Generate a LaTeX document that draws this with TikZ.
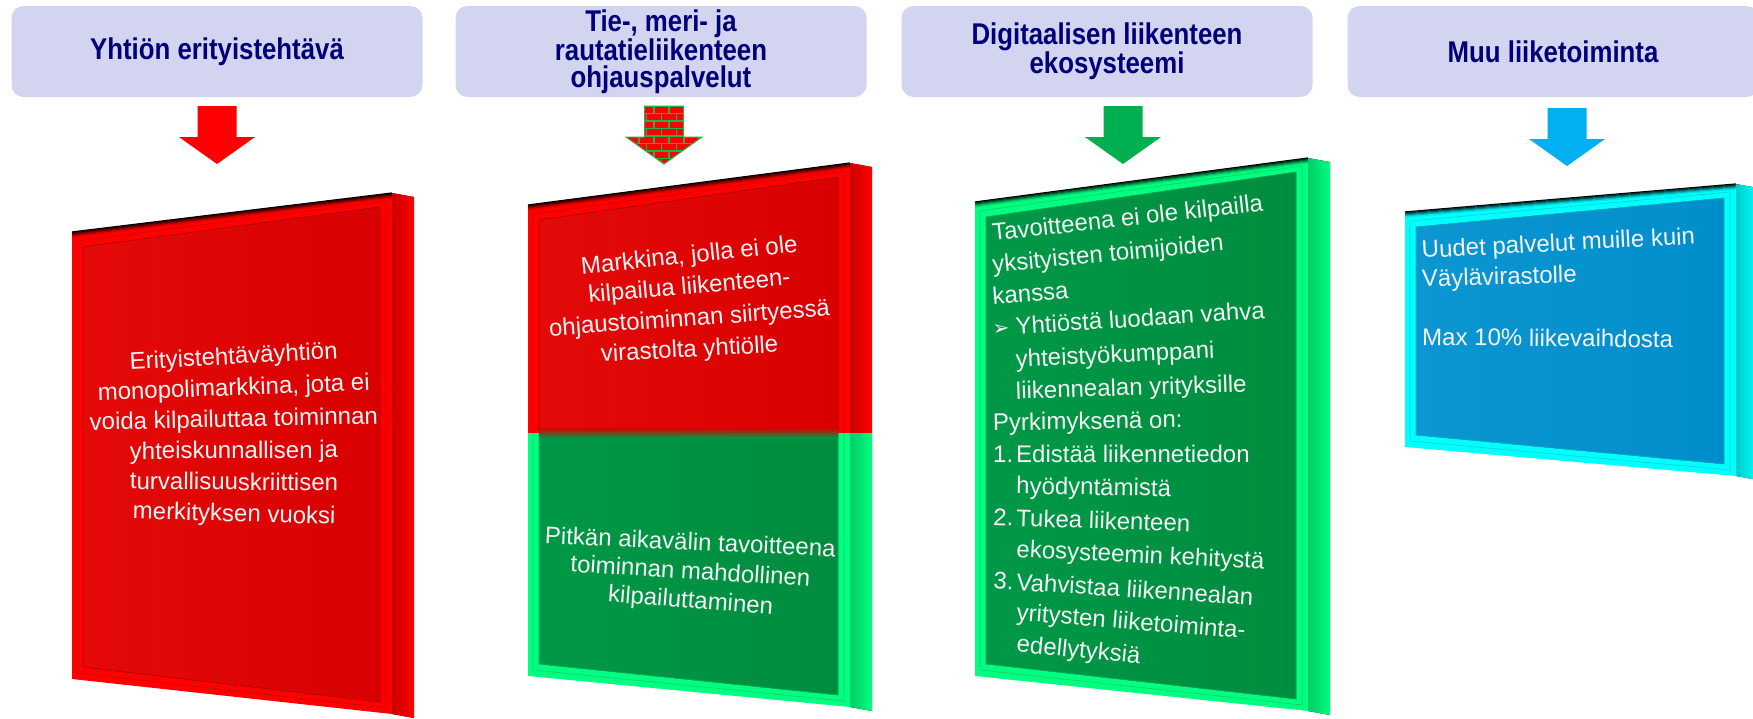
\documentclass[tikz,border=0pt]{standalone}
\usepackage{fontspec}
\setmainfont{Liberation Sans}
\newfontfamily\headfont[FakeStretch=0.86]{Liberation Sans}
\newfontfamily\symfont{DejaVu Sans}
\usetikzlibrary{calc}

\definecolor{headfill}{RGB}{211,212,240}
\definecolor{headtext}{RGB}{0,0,120}
\definecolor{framered}{RGB}{255,0,0}
\definecolor{facered}{RGB}{228,10,10}
\definecolor{facereddark}{RGB}{216,0,0}
\definecolor{framegreen}{RGB}{0,255,128}
\definecolor{facegreen}{RGB}{0,152,72}
\definecolor{facegreendark}{RGB}{0,140,62}
\definecolor{framecyan}{RGB}{0,255,255}
\definecolor{faceblue}{RGB}{12,150,210}
\definecolor{facebluedark}{RGB}{0,142,202}
\definecolor{arrowgreen}{RGB}{0,176,80}
\definecolor{arrowblue}{RGB}{0,176,240}
\definecolor{mortar}{RGB}{34,177,76}
\definecolor{boardtext}{RGB}{244,244,244}

\tikzset{
  headbox/.style={fill=headfill, rounded corners=12pt, minimum width=411pt,
    minimum height=91pt, inner sep=0pt, align=center, text=headtext,
    font=\headfont\bfseries\fontsize{30}{27}\selectfont},
  boardline/.style={text=boardtext, inner sep=0pt,
    font=\fontsize{24}{30}\selectfont},
}

% block arrow hanging below a header
\newcommand\arrowpath[1]{(#1) ++(-19.5,0) -- ++(39,0) -- ++(0,31) -- ++(18.5,0)
  -- ++(-38,27) -- ++(-38,-27) -- ++(18.5,0) -- cycle}

% 3d board: side bar, frame, bevel, face and dark top edge
\newcommand\drawboard[4]{%
  \fill[left color=#2!80!black, middle color=#2!90!white, right color=#2]
    (#1tr) -- ($(#1tr)+(22,4)$) -- ($(#1br)+(22,4)$) -- (#1br) -- cycle;
  \fill[#2] (#1tl) -- (#1tr) -- (#1br) -- (#1bl) -- cycle;
  \draw[#2!82!black, line width=0.6pt] ($(#1tl)+(5,9)$) -- ($(#1tr)+(-6,8)$)
    -- ($(#1br)+(-6,-6)$) -- ($(#1bl)+(5,-6)$) -- cycle;
  \fill[left color=#3, right color=#4, draw=#2!72!black, line width=0.6pt]
    ($(#1tl)+(11,15)$) -- ($(#1tr)+(-12,14)$) -- ($(#1br)+(-12,-12)$)
    -- ($(#1bl)+(11,-12)$) -- cycle;
  \foreach \k in {0,...,5} {
    \pgfmathtruncatemacro\shd{100-18*\k}
    \draw[black!\shd!#2, line width=1.3pt] ($(#1tl)+(0,\k)$) -- ($(#1tr)+(0,\k)$);
  }
}

\begin{document}
\begin{tikzpicture}[x=1pt, y=-1pt]
  \useasboundingbox (0,0) rectangle (1753,718);

  % headers
  \node[headbox] (head1) at (217,51.5) {Yhtiön erityistehtävä};
  \node[headbox] (head2) at (661,51.5) {Tie-, meri- ja\\rautatieliikenteen\\ohjauspalvelut};
  \node[headbox] (head3) at (1107,51.5) {Digitaalisen liikenteen\\ekosysteemi};
  \node[headbox] (head4) at (1553,51.5) {Muu liiketoiminta};

  % arrows
  \coordinate (a1) at (217,106);
  \coordinate (a2) at (664,106);
  \coordinate (a3) at (1123,106);
  \coordinate (a4) at (1567,108);
  \fill[framered] \arrowpath{a1};
  \fill[arrowgreen] \arrowpath{a3};
  \fill[arrowblue] \arrowpath{a4};
  \begin{scope}
    \clip \arrowpath{a2};
    \fill[framered] \arrowpath{a2};
    \foreach \r in {0,...,7} {
      \pgfmathsetmacro\off{mod(\r,2)*7.5}
      \draw[mortar, line width=1.5pt] ($(a2)+(-40,7.5*\r)$) -- ++(80,0);
      \foreach \k in {0,...,5}
        \draw[mortar, line width=1.5pt] ($(a2)+(-40+\off+15*\k,7.5*\r)$) -- ++(0,7.5);
    }
  \end{scope}
  \draw[mortar, line width=1pt] \arrowpath{a2};

  % boards
  \coordinate (patl) at (72,232);    \coordinate (patr) at (392,193);
  \coordinate (pabr) at (392,714);   \coordinate (pabl) at (72,679);
  \coordinate (pbtl) at (528,205);   \coordinate (pbtr) at (850,163);
  \coordinate (pbbr) at (850,707);   \coordinate (pbbl) at (528,676);
  \coordinate (pctl) at (975,202);   \coordinate (pctr) at (1308,158);
  \coordinate (pcbr) at (1308,711);  \coordinate (pcbl) at (975,676);
  \coordinate (pdtl) at (1405,212);  \coordinate (pdtr) at (1736,184);
  \coordinate (pdbr) at (1736,476);  \coordinate (pdbl) at (1405,447);

  \drawboard{pa}{framered}{facered}{facereddark}
  \begin{scope}
    \clip (0,0) rectangle (1753,433);
    \drawboard{pb}{framered}{facered}{facereddark}
  \end{scope}
  \begin{scope}
    \clip (0,433) rectangle (1753,718);
    \drawboard{pb}{framegreen}{facegreen}{facegreendark}
  \end{scope}
  \shade[top color=facereddark, bottom color=facegreen] (539,428) rectangle (838,438);
  \drawboard{pc}{framegreen}{facegreen}{facegreendark}
  \drawboard{pd}{framecyan}{faceblue}{facebluedark}

  % board texts
  \foreach \txt [count=\i] in {Erityistehtäväyhtiön, {monopolimarkkina, jota ei},
      voida kilpailuttaa toiminnan, yhteiskunnallisen ja,
      turvallisuuskriittisen, merkityksen vuoksi} {
    \pgfmathsetmacro\yy{364+31.5*(\i-1)}
    \pgfmathsetmacro\ang{7-13.1*(\yy-232)/447}
    \node[boardline, anchor=base, rotate=\ang] (pa\i) at (234,\yy) {\txt};
  }
  \foreach \yy/\txt [count=\i] in {263/{Markkina, jolla ei ole},
      294/kilpailua liikenteen-, 326/ohjaustoiminnan siirtyessä,
      357/virastolta yhtiölle, 550/Pitkän aikavälin tavoitteena,
      579/toiminnan mahdollinen, 608/kilpailuttaminen} {
    \pgfmathsetmacro\ang{7.7-14*(\yy-205)/468}
    \node[boardline, anchor=base, rotate=\ang] (pb\i) at (690,\yy) {\txt};
  }
  \foreach \dx/\txt [count=\i] in {0/Tavoitteena ei ole kilpailla,
      0/yksityisten toimijoiden, 0/kanssa,
      0/{\makebox[23pt][l]{\symfont\fontsize{20}{20}\selectfont ➢}Yhtiöstä luodaan vahva},
      23/yhteistyökumppani, 23/liikennealan yrityksille,
      0/Pyrkimyksenä on:,
      0/{\makebox[23pt][l]{1.}Edistää liikennetiedon}, 23/hyödyntämistä,
      0/{\makebox[23pt][l]{2.}Tukea liikenteen}, 23/ekosysteemin kehitystä,
      0/{\makebox[23pt][l]{3.}Vahvistaa liikennealan},
      23/yritysten liiketoiminta-, 23/edellytyksiä} {
    \pgfmathsetmacro\yy{241+31.6*(\i-1)}
    \pgfmathsetmacro\ang{7.5-13.7*(\yy-202)/474}
    \node[boardline, anchor=base west, rotate=\ang] (pc\i) at (993+\dx,\yy) {\txt};
  }
  \foreach \yy/\txt [count=\i] in {258/Uudet palvelut muille kuin,
      287/Väylävirastolle, 345/Max 10\% liikevaihdosta} {
    \pgfmathsetmacro\ang{4.8-9.6*(\yy-212)/235}
    \node[boardline, anchor=base west, rotate=\ang] (pd\i) at (1422,\yy) {\txt};
  }
\end{tikzpicture}
\end{document}
